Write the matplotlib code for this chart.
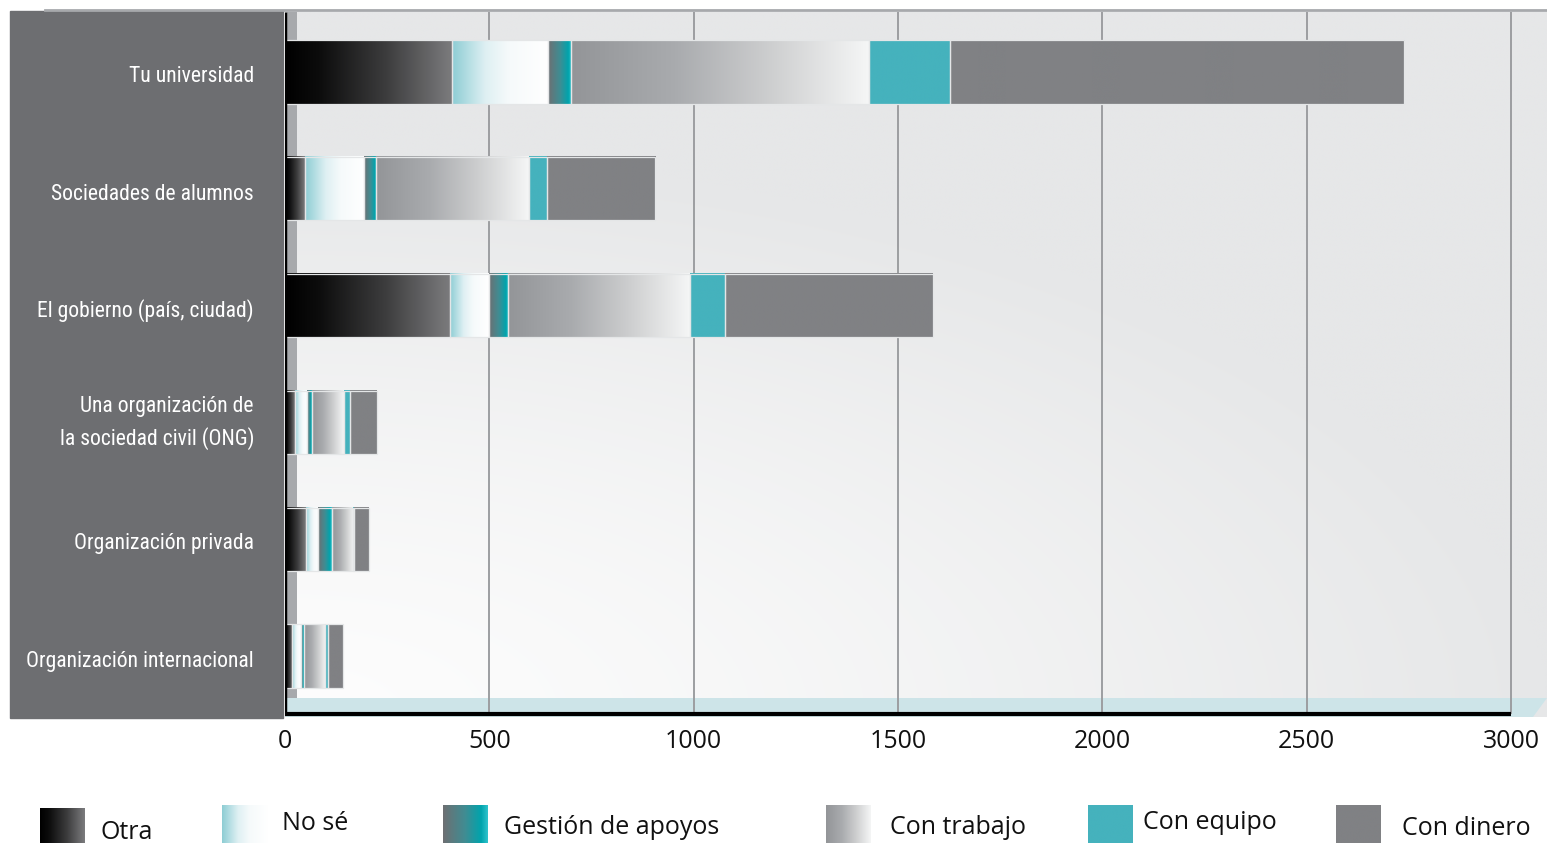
import matplotlib
matplotlib.use("Agg")
import matplotlib.pyplot as plt
import matplotlib.patches as mpatches
from matplotlib.colors import LinearSegmentedColormap, to_rgb
from matplotlib import font_manager
import numpy as np

# Data
categories = [
    "Tu universidad",
    "Sociedades de alumnos",
    "El gobierno (país, ciudad)",
    "Una organización de\nla sociedad civil (ONG)",
    "Organización privada",
    "Organización internacional",
]
series = ["Otra", "No sé", "Gestión de apoyos", "Con trabajo", "Con equipo", "Con dinero"]

otra = [409, 48, 404, 24, 51, 18]
no_se = [234, 145, 95, 31, 30, 22]
gestion = [57, 30, 47, 12, 33, 6]
con_trabajo = [729, 374, 445, 78, 52, 52]
con_equipo = [198, 43, 86, 15, 4, 8]
con_dinero = [1111, 265, 508, 64, 36, 35]

x_ticks = [0, 500, 1000, 1500, 2000, 2500, 3000]

values = [otra, no_se, gestion, con_trabajo, con_equipo, con_dinero]

# gradient stops per series (left -> right)
grads = [
    [(0, "#000000"), (0.2, "#0c0c0c"), (0.6, "#3c3c3d"), (1, "#7c7c7e")],
    [(0, "#8dcdd4"), (0.35, "#dff0f3"), (0.6, "#f6fafb"), (1, "#ffffff")],
    [(0, "#6e6f72"), (0.5, "#3f8d93"), (0.85, "#00a4ad"), (1, "#30c4cd")],
    [(0, "#939598"), (0.35, "#a9abae"), (0.65, "#cbcccd"), (1, "#f5f6f6")],
    [(0, "#45b2bd"), (1, "#45b2bd")],
    [(0, "#808184"), (1, "#808184")],
]
cmaps = [LinearSegmentedColormap.from_list("g%d" % i, g) for i, g in enumerate(grads)]
ramp = np.linspace(0, 1, 256).reshape(1, -1)


# pick a narrow font for the category labels if one is installed
def pick_narrow():
    pref = ["Liberation Sans Narrow", "Roboto Condensed", "DejaVu Sans", "Noto Sans",
            "Open Sans", "Lato", "Inter"]
    found = []
    for f in font_manager.fontManager.ttflist:
        if f.style != "normal" or str(f.weight) not in ("400", "normal", "regular", "book"):
            continue
        if "Narrow" in f.name or "Condensed" in f.name or "condensed" in str(f.stretch):
            rank = pref.index(f.name) if f.name in pref else len(pref)
            found.append((rank, f.fname))
    if found:
        found.sort()
        return font_manager.FontProperties(fname=found[0][1]), True
    return font_manager.FontProperties(family=["Roboto", "DejaVu Sans"]), False


narrow_fp, is_narrow = pick_narrow()
names = {f.name for f in font_manager.fontManager.ttflist}
regular = "Open Sans" if "Open Sans" in names else "DejaVu Sans"

W, H = 1547, 843
fig = plt.figure(figsize=(W / 100, H / 100), dpi=100)


def fx(px):
    return px / W


def fy(py):
    return 1 - py / H


# main axes
ax_l, ax_r, ax_t, ax_b = 285, 1547, 12, 717
ax = fig.add_axes([fx(ax_l), fy(ax_b), fx(ax_r - ax_l), (ax_b - ax_t) / H])
px_per_unit = (1511 - 285) / 3000
xmax = (ax_r - ax_l) / px_per_unit
spacing = 116.8
ytop = -(72 - ax_t) / spacing
ybot = 5 + (ax_b - 656) / spacing
y_floor_top = 5 + (698 - 656) / spacing
y_axis = 5 + (714 - 656) / spacing

# background gradient
u = np.linspace(0, 1, 300)
v = np.linspace(1, 0, 200)
U, V = np.meshgrid(u, v)
t = np.clip(np.sqrt((U / 1.0) ** 2 + (V / 0.8) ** 2), 0, 1) ** 1.3
c0 = np.array(to_rgb("#fdfdfd"))
c1 = np.array(to_rgb("#e6e7e8"))
bg = c0 + (c1 - c0) * t[..., None]
ax.imshow(bg, extent=(0, xmax, ybot, ytop), aspect="auto", zorder=0, interpolation="bilinear")

# floor and wall
floor = mpatches.Polygon(
    [(-10, y_floor_top), (xmax, y_floor_top), ((1533 - 285) / px_per_unit, ybot), (-10, ybot)],
    closed=True, color="#cde4e8", zorder=0.5, lw=0)
ax.add_patch(floor)
ax.add_patch(mpatches.Rectangle((5, ytop), 24, y_floor_top - ytop, color="#a7a9ac", zorder=0.6, lw=0))

# grid lines
ax.vlines(x_ticks[1:], ytop, y_axis, color="#9c9ea1", lw=1.4, zorder=1)

# bars
bar_h = 0.54
for i, cat in enumerate(categories):
    left = 0
    for s in range(len(series)):
        w = values[s][i]
        ext = (left, left + w, i + bar_h / 2, i - bar_h / 2)
        ax.imshow(ramp, cmap=cmaps[s], extent=ext, aspect="auto",
                  interpolation="bilinear", zorder=2)
        ax.add_patch(mpatches.Rectangle((left, i - bar_h / 2), w, bar_h, fill=False,
                                        edgecolor="#e4e6e7", lw=0.9, zorder=3))
        left += w

# axis lines
ax.plot([0, 0], [ytop, y_axis], color="black", lw=2.5, zorder=4, solid_capstyle="butt")
ax.plot([0, 3000], [y_axis, y_axis], color="black", lw=3, zorder=4, solid_capstyle="butt")

ax.set_xlim(0, xmax)
ax.set_ylim(ybot, ytop)
ax.set_xticks(x_ticks)
ax.set_xticklabels([str(x) for x in x_ticks], fontsize=18, family=regular, color="#111111")
ax.tick_params(axis="x", length=0, pad=9)
ax.set_yticks([])
for sp in ax.spines.values():
    sp.set_visible(False)

# left panel with category labels
fig.patches.append(mpatches.Rectangle((fx(10), fy(718)), fx(273), (718 - 11) / H,
                                      transform=fig.transFigure, color="#6d6e71", zorder=0))
fig.lines.append(plt.Line2D([fx(45), fx(1547)], [fy(10), fy(10)], transform=fig.transFigure,
                            color="#a7a9ac", lw=2))
label_y = [77, 194, 311, 423, 544, 661]
labels = []
for cat, cy in zip(categories, label_y):
    fp = narrow_fp.copy()
    fp.set_size(16.5)
    labels.append(fig.text(fx(254), fy(cy), cat, ha="right", va="center", color="white",
                           fontproperties=fp, linespacing=1.55))

# shrink labels if the font is too wide for the panel
renderer = fig.canvas.get_renderer()
widest = max(tx.get_window_extent(renderer).width for tx in labels)
if widest > 228:
    size = 16.5 * 228 / widest
    for tx in labels:
        tx.set_fontsize(size)

# legend
sw_left = [40, 222, 443, 826, 1088, 1336]
sw_top = [808, 805, 805, 805, 805, 805]
lab_x = [100, 282, 504, 890, 1143, 1402]
lab_base = [839, 830, 834, 834, 829, 835]
for s, name in enumerate(series):
    lax = fig.add_axes([fx(sw_left[s]), 0, fx(45), (H - sw_top[s]) / H])
    lax.imshow(ramp, cmap=cmaps[s], aspect="auto", interpolation="bilinear")
    lax.axis("off")
    fig.text(fx(lab_x[s]), fy(lab_base[s]), name, ha="left", va="baseline",
             fontsize=18, family=regular, color="#111111")

fig.savefig("out.png", dpi=100)
